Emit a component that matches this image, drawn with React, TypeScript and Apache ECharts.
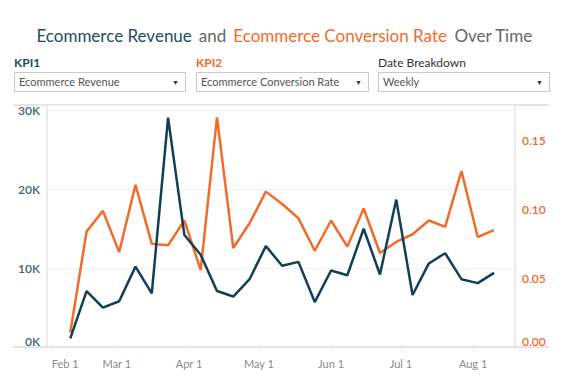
import React, { useEffect, useRef } from "react";
import * as echarts from "echarts";

const weekStarts = [
  "2017-02-09", "2017-02-16", "2017-02-23", "2017-03-02", "2017-03-09", "2017-03-16",
  "2017-03-23", "2017-03-30", "2017-04-06", "2017-04-13", "2017-04-20", "2017-04-27",
  "2017-05-04", "2017-05-11", "2017-05-18", "2017-05-25", "2017-06-01", "2017-06-08",
  "2017-06-15", "2017-06-22", "2017-06-29", "2017-07-06", "2017-07-13", "2017-07-20",
  "2017-07-27", "2017-08-03", "2017-08-10",
];

const revenue = [
  1100, 7100, 5000, 5800, 10200, 6800, 29100, 14200, 11700, 7100, 6400, 8600, 12800,
  10300, 10800, 5700, 9700, 9100, 15000, 9200, 18700, 6600, 10600, 11900, 8600, 8100, 9400,
];

const conversionRate = [
  0.0105, 0.084, 0.099, 0.069, 0.118, 0.075, 0.074, 0.092, 0.056, 0.167, 0.072, 0.09,
  0.113, 0.104, 0.0935, 0.07, 0.092, 0.073, 0.1007, 0.0684, 0.0764, 0.082, 0.092, 0.0873,
  0.128, 0.08, 0.085,
];

const monthTicks = ["2017-02-01", "2017-03-01", "2017-04-01", "2017-05-01", "2017-06-01", "2017-07-01", "2017-08-01"];
const monthTickLabels = ["Feb 1", "Mar 1", "Apr 1", "May 1", "Jun 1", "Jul 1", "Aug 1"];
const leftTicks = ["0K", "10K", "20K", "30K"];
const rightTicks = ["0.00", "0.05", "0.10", "0.15"];

const TEAL = "#1f4c62";
const TEAL_LINE = "#123f55";
const ORANGE = "#f26b2b";
const FONT = "Lato, 'Open Sans', sans-serif";

// day number since 2017-01-01
const dayNum = (s: string) => {
  const [y, m, d] = s.split("-").map(Number);
  return Math.round((Date.UTC(y, m - 1, d) - Date.UTC(2017, 0, 1)) / 86400000);
};

export default function App() {
  const ref = useRef<HTMLDivElement>(null);
  useEffect(() => {
    if (!ref.current) return;
    const chart = echarts.init(ref.current, undefined, { renderer: "svg" });

    const tickDays = monthTicks.map(dayNum);

    const dropdown = (x: number, w: number, label: string, labelColor: string, labelWeight: string, value: string) => ({
      type: "group",
      children: [
        {
          type: "text",
          x: x,
          y: 56,
          style: { text: label, fill: labelColor, font: `${labelWeight} 12px ${FONT}` },
        },
        {
          type: "rect",
          shape: { x: x + 0.5, y: 72.5, width: w, height: 19 },
          style: { fill: "#fff", stroke: "#c9c9c9", lineWidth: 1 },
        },
        {
          type: "text",
          x: x + 5,
          y: 76,
          style: { text: value, fill: "#555", font: `11px ${FONT}` },
        },
        {
          type: "text",
          x: x + w - 13,
          y: 78,
          style: { text: "▼", fill: "#333", font: `7px ${FONT}` },
        },
      ],
    });

    chart.setOption({
      animation: false,
      backgroundColor: "#fff",
      title: {
        left: "center",
        top: 21,
        text: "{a|Ecommerce Revenue} {b|and} {c|Ecommerce Conversion Rate} {b|Over Time}",
        textStyle: {
          rich: {
            a: { color: TEAL, fontSize: 17, fontFamily: FONT, fontWeight: "normal", padding: [0, 1] },
            b: { color: "#666", fontSize: 17, fontFamily: FONT, fontWeight: "normal", padding: [0, 1] },
            c: { color: ORANGE, fontSize: 17, fontFamily: FONT, fontWeight: "normal", padding: [0, 1] },
          },
        },
      },
      graphic: [
        dropdown(14, 171, "KPI1", TEAL, "bold", "Ecommerce Revenue"),
        dropdown(196, 172, "KPI2", ORANGE, "bold", "Ecommerce Conversion Rate"),
        dropdown(378, 171, "Date Breakdown", "#333", "normal", "Weekly"),
        {
          type: "line",
          shape: { x1: 13, y1: 105, x2: 549, y2: 105 },
          style: { stroke: "#e4e4e4", lineWidth: 2 },
        },
        {
          type: "line",
          shape: { x1: 13, y1: 347, x2: 549, y2: 347 },
          style: { stroke: "#e4e4e4", lineWidth: 2 },
          z: 10,
        },
      ],
      grid: { left: 47, right: 54, top: 105, bottom: 43 },
      xAxis: {
        type: "value",
        min: dayNum("2017-01-30"),
        max: dayNum("2017-08-19"),
        axisLine: { show: false },
        splitLine: { show: false },
        axisTick: {
          show: true,
          length: 4,
          customValues: tickDays,
          lineStyle: { color: "#e2e2e2" },
        },
        axisLabel: {
          customValues: tickDays,
          color: "#8a8a8a",
          fontSize: 11,
          fontFamily: FONT,
          margin: 11,
          alignMinLabel: "left",
          formatter: (v: number) => {
            const i = tickDays.indexOf(Math.round(v));
            return i >= 0 ? monthTickLabels[i] : "";
          },
        },
      },
      yAxis: [
        {
          type: "value",
          min: 0,
          max: 30700,
          interval: 10000,
          axisLine: { show: true, lineStyle: { color: "#e4e4e4", width: 1.5 } },
          axisTick: { show: false },
          splitLine: { show: true, lineStyle: { color: "#f1f1f1", width: 1 } },
          axisLabel: {
            color: "#3d6478",
            fontSize: 12,
            fontFamily: FONT,
            fontWeight: 600,
            margin: 7,
            showMaxLabel: false,
            verticalAlignMinLabel: "bottom",
            formatter: (v: number) => leftTicks[Math.round(v / 10000)] ?? "",
          },
        },
        {
          type: "value",
          position: "right",
          min: 0,
          max: 0.176,
          interval: 0.05,
          axisLine: { show: true, lineStyle: { color: "#e4e4e4", width: 1.5 } },
          axisTick: { show: false },
          splitLine: { show: false },
          axisLabel: {
            color: ORANGE,
            fontSize: 12,
            fontFamily: FONT,
            fontWeight: 600,
            margin: 7,
            showMaxLabel: false,
            verticalAlignMinLabel: "bottom",
            formatter: (v: number) => rightTicks[Math.round(v / 0.05)] ?? "",
          },
        },
      ],
      series: [
        {
          name: "Ecommerce Conversion Rate",
          type: "line",
          yAxisIndex: 1,
          data: weekStarts.map((d, i) => [dayNum(d), conversionRate[i]]),
          showSymbol: false,
          symbol: "none",
          lineStyle: { color: ORANGE, width: 2.5 },
          itemStyle: { color: ORANGE },
          z: 3,
        },
        {
          name: "Ecommerce Revenue",
          type: "line",
          yAxisIndex: 0,
          data: weekStarts.map((d, i) => [dayNum(d), revenue[i]]),
          showSymbol: false,
          symbol: "none",
          lineStyle: { color: TEAL_LINE, width: 2.5 },
          itemStyle: { color: TEAL_LINE },
          z: 4,
        },
      ],
    });
    return () => chart.dispose();
  }, []);

  return (
    <div
      ref={ref}
      style={{ position: "fixed", left: 0, top: 0, width: 569, height: 390 }}
    />
  );
}
